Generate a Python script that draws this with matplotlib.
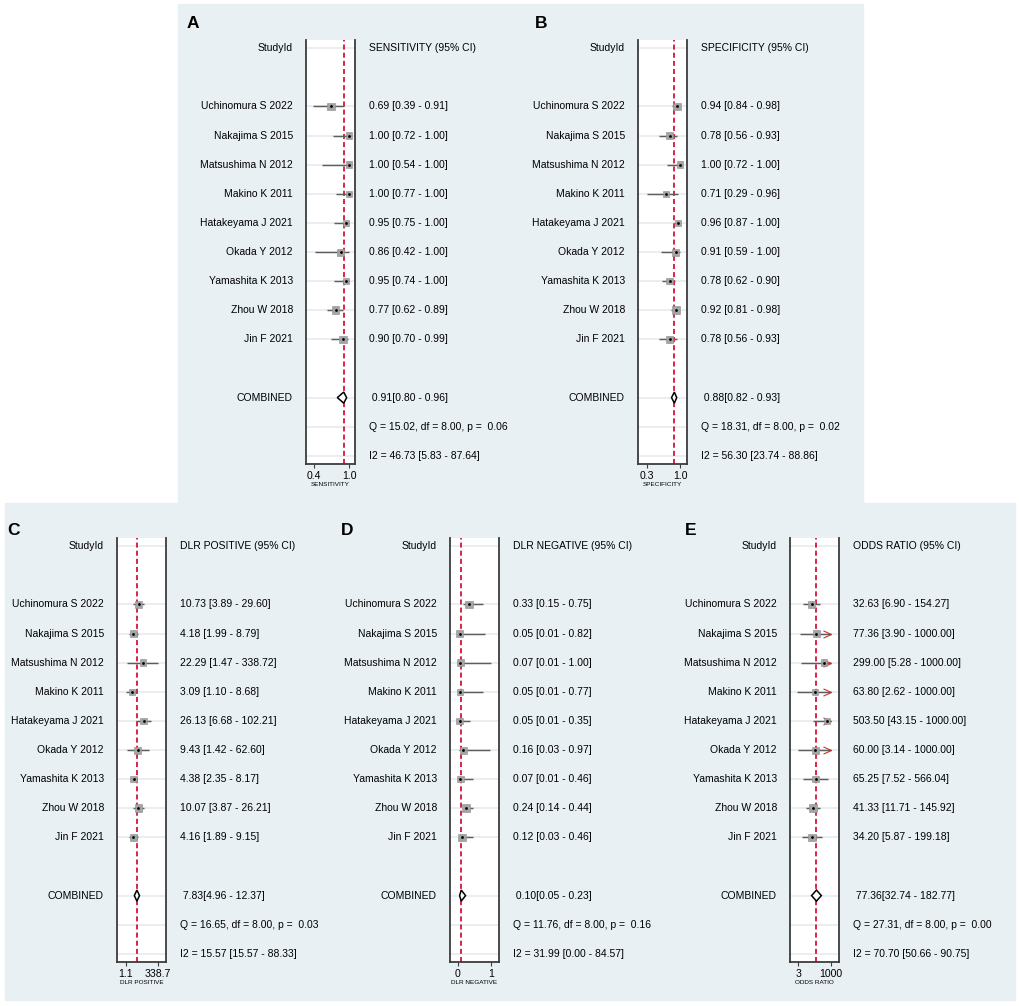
import numpy as np
import matplotlib.pyplot as plt
from matplotlib.patches import Rectangle, Polygon
from matplotlib.path import Path

plt.rcParams['font.family'] = ['Liberation Sans', 'DejaVu Sans']

studies = ['Uchinomura S 2022', 'Nakajima S 2015', 'Matsushima N 2012', 'Makino K 2011',
           'Hatakeyama J 2021', 'Okada Y 2012', 'Yamashita K 2013', 'Zhou W 2018', 'Jin F 2021']
# box size in px, roughly the study weight
box_px = [7.5, 6.3, 6.5, 6.2, 6.6, 7.0, 6.7, 7.6, 7.5]

# A: sensitivity
sens = [0.69, 1.00, 1.00, 1.00, 0.95, 0.86, 0.95, 0.77, 0.90]
sens_lo = [0.39, 0.72, 0.54, 0.77, 0.75, 0.42, 0.74, 0.62, 0.70]
sens_hi = [0.91, 1.00, 1.00, 1.00, 1.00, 1.00, 1.00, 0.89, 0.99]
sens_pool = [0.91, 0.80, 0.96]
sens_het = [15.02, 0.06, 46.73, 5.83, 87.64]

# B: specificity
spec = [0.94, 0.78, 1.00, 0.71, 0.96, 0.91, 0.78, 0.92, 0.78]
spec_lo = [0.84, 0.56, 0.72, 0.29, 0.87, 0.59, 0.62, 0.81, 0.56]
spec_hi = [0.98, 0.93, 1.00, 0.96, 1.00, 1.00, 0.90, 0.98, 0.93]
spec_pool = [0.88, 0.82, 0.93]
spec_het = [18.31, 0.02, 56.30, 23.74, 88.86]

# C: positive likelihood ratio
dlrp = [10.73, 4.18, 22.29, 3.09, 26.13, 9.43, 4.38, 10.07, 4.16]
dlrp_lo = [3.89, 1.99, 1.47, 1.10, 6.68, 1.42, 2.35, 3.87, 1.89]
dlrp_hi = [29.60, 8.79, 338.72, 8.68, 102.21, 62.60, 8.17, 26.21, 9.15]
dlrp_pool = [7.83, 4.96, 12.37]
dlrp_het = [16.65, 0.03, 15.57, 15.57, 88.33]

# D: negative likelihood ratio
dlrn = [0.33, 0.05, 0.07, 0.05, 0.05, 0.16, 0.07, 0.24, 0.12]
dlrn_lo = [0.15, 0.01, 0.01, 0.01, 0.01, 0.03, 0.01, 0.14, 0.03]
dlrn_hi = [0.75, 0.82, 1.00, 0.77, 0.35, 0.97, 0.46, 0.44, 0.46]
dlrn_pool = [0.10, 0.05, 0.23]
dlrn_het = [11.76, 0.16, 31.99, 0.00, 84.57]

# E: diagnostic odds ratio (upper limits truncated at 1000)
dor = [32.63, 77.36, 299.00, 63.80, 503.50, 60.00, 65.25, 41.33, 34.20]
dor_lo = [6.90, 3.90, 5.28, 2.62, 43.15, 3.14, 7.52, 11.71, 5.87]
dor_hi = [154.27, 1000.00, 1000.00, 1000.00, 1000.00, 1000.00, 566.04, 145.92, 199.18]
dor_pool = [77.36, 32.74, 182.77]
dor_het = [27.31, 0.00, 70.70, 50.66, 90.75]

W, H = 1020, 1006
fig = plt.figure(figsize=(W / 100, H / 100), dpi=100)
PT = 0.72  # points per pixel


def fx(px):
    return px / W


def fy(py):
    return 1 - py / H


bg = '#E9F0F3'
fig.patches.append(Rectangle((fx(178), fy(503)), fx(863) - fx(178), fy(4) - fy(503),
                             transform=fig.transFigure, color=bg, zorder=-5))
fig.patches.append(Rectangle((fx(5), fy(1000)), fx(1015) - fx(5), fy(503) - fy(1000),
                             transform=fig.transFigure, color=bg, zorder=-5))

arrow_path = Path([(-2, 0.9), (0, 0), (-2, -0.9)], [Path.MOVETO, Path.LINETO, Path.LINETO])


def forest(left, top, letter, letter_x, header, xlabel, est, lo, hi, pool, het,
           xlim, ticks, ticklabels, log=False, cap=None):
    ax = fig.add_axes([fx(left), fy(top + 424), 49 / W, 424 / H])
    ax.set_facecolor('white')
    if log:
        ax.set_xscale('log')
    ax.set_xlim(*xlim)
    ax.set_ylim(14.28, -0.28)
    rows = np.arange(2, 11)

    for r in [0] + list(rows) + [12, 13, 14]:
        ax.axhline(r, color='#E2EAED', lw=1.1, zorder=0)
    ax.axvline(pool[0], color='#D8123C', lw=1.3, ls=(0, (2.8, 1.7)), zorder=1)

    ax.hlines(rows, lo, hi, color='#5E5E5E', lw=1.05, zorder=2)
    if cap is not None:
        capped = [r for r, h in zip(rows, hi) if h >= cap]
        ax.plot([cap] * len(capped), capped, ls='none', marker=arrow_path,
                markersize=16 * PT, markerfacecolor='none', markeredgecolor='#C0392B',
                markeredgewidth=0.8, zorder=2.5)
    ax.scatter(est, rows, marker='s', s=(np.array(box_px) * PT) ** 2,
               color='#A4A4A4', edgecolor='#8C8C8C', linewidth=0.4, zorder=3)
    ax.scatter(est, rows, marker='o', s=(2.8 * PT) ** 2, color='black', lw=0, zorder=4)

    ax.add_patch(Polygon([(pool[1], 12), (pool[0], 12 - 0.19), (pool[2], 12), (pool[0], 12 + 0.19)],
                         closed=True, facecolor='white', edgecolor='black', lw=1.1, zorder=4))

    for s in ['left', 'right', 'bottom']:
        ax.spines[s].set_color('#3C3C3C')
        ax.spines[s].set_linewidth(1.3)
    ax.spines['top'].set_visible(False)
    ax.set_yticks([])
    ax.minorticks_off()
    ax.set_xticks(ticks)
    ax.set_xticklabels(ticklabels)
    ax.tick_params(axis='x', length=3, width=0.8, pad=2, labelsize=7.6, color='#3C3C3C')
    ax.set_xlabel(xlabel, fontsize=4.6, labelpad=0.5)

    fs = 7.45
    lkw = dict(xycoords=('axes fraction', 'data'), textcoords='offset points',
               ha='right', va='center', fontsize=fs)
    rkw = dict(xycoords=('axes fraction', 'data'), textcoords='offset points',
               ha='left', va='center', fontsize=fs)
    ax.annotate('StudyId', xy=(0, 0), xytext=(-13 * PT, 0), **lkw)
    ax.annotate(header, xy=(1, 0), xytext=(14 * PT, 0), **rkw)
    for r, name, e, l, h in zip(rows, studies, est, lo, hi):
        ax.annotate(name, xy=(0, r), xytext=(-13 * PT, 0), **lkw)
        ax.annotate(f'{e:.2f} [{l:.2f} - {h:.2f}]', xy=(1, r), xytext=(14 * PT, 0), **rkw)
    ax.annotate('COMBINED', xy=(0, 12), xytext=(-13 * PT, 0), **lkw)
    ax.annotate(f' {pool[0]:.2f}[{pool[1]:.2f} - {pool[2]:.2f}]', xy=(1, 12), xytext=(14 * PT, 0), **rkw)
    ax.annotate(f'Q = {het[0]:.2f}, df = 8.00, p =  {het[1]:.2f}', xy=(1, 13), xytext=(14 * PT, 0), **rkw)
    ax.annotate(f'I2 = {het[2]:.2f} [{het[3]:.2f} - {het[4]:.2f}]', xy=(1, 14), xytext=(14 * PT, 0), **rkw)

    base = 28 if top < 300 else 535
    fig.text(fx(letter_x), fy(base), letter, fontsize=12.5, fontweight='bold',
             ha='left', va='baseline')
    return ax


forest(306, 40, 'A', 187, 'SENSITIVITY (95% CI)', 'SENSITIVITY',
       sens, sens_lo, sens_hi, sens_pool, sens_het,
       (0.263, 1.103), [0.4, 1.0], ['0.4', '1.0'])
forest(638, 40, 'B', 535, 'SPECIFICITY (95% CI)', 'SPECIFICITY',
       spec, spec_lo, spec_hi, spec_pool, spec_het,
       (0.109, 1.148), [0.3, 1.0], ['0.3', '1.0'])
forest(117, 538, 'C', 7, 'DLR POSITIVE (95% CI)', 'DLR POSITIVE',
       dlrp, dlrp_lo, dlrp_hi, dlrp_pool, dlrp_het,
       (0.23, 1358), [1.1, 338.7], ['1.1', '338.7'], log=True)
forest(450, 538, 'D', 341, 'DLR NEGATIVE (95% CI)', 'DLR NEGATIVE',
       dlrn, dlrn_lo, dlrn_hi, dlrn_pool, dlrn_het,
       (-0.24, 1.24), [0, 1], ['0', '1'])
forest(790, 538, 'E', 685, 'ODDS RATIO (95% CI)', 'ODDS RATIO',
       dor, dor_lo, dor_hi, dor_pool, dor_het,
       (0.73, 4100), [3, 1000], ['3', '1000'], log=True, cap=1000)

fig.savefig('out.png', dpi=100, facecolor='white')
